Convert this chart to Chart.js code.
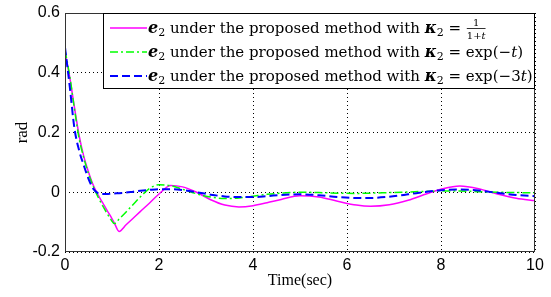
<!DOCTYPE html>
<html>
<head>
<meta charset="utf-8">
<script src="https://cdn.jsdelivr.net/npm/chart.js@4"></script>
<style>
  html, body { margin: 0; padding: 0; background: #fff; }
</style>
</head>
<body>
<canvas id="chart" width="551" height="297"></canvas>
<script>
// time axis (sec) and tracking error e2 (rad) for the three kappa2 choices
const time = [0, 0.1, 0.2, 0.3, 0.4, 0.5, 0.6, 0.7, 0.8, 0.9, 0.97, 1.05, 1.15, 1.3, 1.45, 1.6, 1.8, 2.0,
  2.25, 2.5, 2.8, 3.1, 3.4, 3.7, 4.0, 4.3, 4.6, 5.0, 5.4, 5.8, 6.2, 6.5, 6.9, 7.3, 7.7, 8.0, 8.4, 8.8, 9.2, 9.6, 10];
const eInvT = [0.47, 0.385, 0.285, 0.19, 0.12, 0.068, 0.024, -0.008, -0.035, -0.062, -0.08, -0.103, -0.131,
  -0.109, -0.087, -0.065, -0.036, -0.006, 0.023, 0.018, 0.0, -0.025, -0.043, -0.049, -0.045, -0.035, -0.024,
  -0.012, -0.016, -0.03, -0.043, -0.047, -0.042, -0.027, -0.005, 0.01, 0.021, 0.012, -0.006, -0.02, -0.028];
const eExp1 = [0.475, 0.39, 0.28, 0.18, 0.115, 0.062, 0.02, -0.015, -0.045, -0.072, -0.09, -0.105, -0.09,
  -0.066, -0.041, -0.016, 0.013, 0.025, 0.022, 0.01, -0.005, -0.016, -0.021, -0.019, -0.013, -0.007, -0.003,
  0.0, -0.001, -0.003, -0.004, -0.003, -0.001, 0.001, 0.003, 0.004, 0.004, 0.002, 0.0, -0.001, -0.002];
const eExp3 = [0.485, 0.355, 0.215, 0.14, 0.09, 0.045, 0.012, -0.003, -0.006, -0.006, -0.005, -0.004, -0.003,
  -0.001, 0.002, 0.005, 0.008, 0.01, 0.01, 0.007, 0.0, -0.008, -0.014, -0.016, -0.016, -0.013, -0.009,
  -0.007, -0.01, -0.016, -0.019, -0.019, -0.015, -0.007, 0.002, 0.007, 0.009, 0.006, -0.002, -0.009, -0.013];

const legendText = " under the proposed method with ";
const kappaExpr = ["frac", "exp(\u2212t)", "exp(\u22123t)"];
const xTicks = [0, 2, 4, 6, 8, 10];
const yTicks = [-0.2, 0, 0.2, 0.4, 0.6];
const yTickLabels = ["-0.2", "0", "0.2", "0.4", "0.6"];

const SERIF = '"DejaVu Serif", serif';

const toPoints = (ys) => time.map((t, i) => ({ x: t, y: ys[i] }));

// draws a run of text pieces with their own fonts, returns new x
function drawRun(ctx, x, y, parts) {
  for (const p of parts) {
    ctx.font = p.font;
    ctx.fillText(p.text, x, y + (p.dy || 0));
    x += ctx.measureText(p.text).width;
  }
  return x;
}

const frameAndLegend = {
  id: "frameAndLegend",
  afterDatasetsDraw(chart) {
    const { ctx, chartArea: a } = chart;
    ctx.save();
    // axes box
    ctx.strokeStyle = "#333";
    ctx.lineWidth = 1;
    ctx.setLineDash([]);
    ctx.strokeRect(a.left + 0.5, a.top + 0.5, a.right - a.left - 1, a.bottom - a.top - 1);

    // legend box
    const bx = 103, by = a.top, bw = a.right - bx, bh = 76;
    ctx.fillStyle = "#fff";
    ctx.fillRect(bx, by, bw, bh);
    ctx.strokeStyle = "#000";
    ctx.strokeRect(bx + 0.5, by + 0.5, bw - 1, bh - 1);

    const regular = "15px " + SERIF;
    const ital = "italic 15px " + SERIF;
    const bold = "italic bold 16px " + SERIF;
    const sub = "11px " + SERIF;
    chart.data.datasets.forEach((ds, i) => {
      const cy = by + 15 + i * 24;
      ctx.strokeStyle = ds.borderColor;
      ctx.lineWidth = ds.borderWidth;
      ctx.setLineDash(ds.borderDash || []);
      ctx.beginPath();
      ctx.moveTo(bx + 7, cy);
      ctx.lineTo(bx + 44, cy);
      ctx.stroke();
      ctx.setLineDash([]);

      ctx.fillStyle = "#000";
      ctx.textBaseline = "alphabetic";
      ctx.textAlign = "left";
      const base = cy + 5;
      let x = drawRun(ctx, bx + 45, base, [
        { text: "e", font: bold },
        { text: "2", font: sub, dy: 3 },
        { text: legendText, font: regular },
        { text: "\u03ba", font: bold },
        { text: "2", font: sub, dy: 3 },
        { text: " = ", font: regular }
      ]);
      const expr = kappaExpr[i];
      if (expr === "frac") {
        ctx.font = "10px " + SERIF;
        const w1 = ctx.measureText("1+").width;
        ctx.font = "italic 10px " + SERIF;
        const w = w1 + ctx.measureText("t").width;
        ctx.font = "10px " + SERIF;
        ctx.fillText("1", x + 1 + (w - ctx.measureText("1").width) / 2, base - 7);
        drawRun(ctx, x + 1, base + 6, [
          { text: "1+", font: "10px " + SERIF },
          { text: "t", font: "italic 10px " + SERIF }
        ]);
        ctx.fillRect(x + 1, base - 5, w, 0.8);
      } else {
        const m = expr.match(/^(.*?)(t)(\))$/);
        drawRun(ctx, x, base, [
          { text: m[1], font: regular },
          { text: m[2], font: ital },
          { text: m[3], font: regular }
        ]);
      }
    });
    ctx.restore();
  }
};

new Chart(document.getElementById("chart"), {
  type: "line",
  data: {
    datasets: [
      {
        data: toPoints(eInvT),
        borderColor: "#ff00ff",
        borderWidth: 1.5,
        order: 3
      },
      {
        data: toPoints(eExp1),
        borderColor: "#00ff00",
        borderWidth: 1.5,
        borderDash: [8, 3, 2, 3],
        order: 2
      },
      {
        data: toPoints(eExp3),
        borderColor: "#0000ff",
        borderWidth: 2,
        borderDash: [8, 4],
        order: 1
      }
    ]
  },
  options: {
    responsive: false,
    animation: false,
    layout: { padding: { top: 13, right: 16, left: 0, bottom: 0 } },
    elements: {
      point: { radius: 0 },
      line: { cubicInterpolationMode: "monotone", fill: false }
    },
    plugins: { legend: { display: false }, tooltip: { enabled: false } },
    scales: {
      x: {
        type: "linear",
        min: 0,
        max: 10,
        afterBuildTicks(s) { s.ticks = xTicks.map((v) => ({ value: v })); },
        afterFit(s) { s.height = 45; s.paddingLeft = 0; s.paddingRight = 0; },
        grid: { color: "#000", lineWidth: 1, drawTicks: false },
        border: { display: false, dash: [1, 3] },
        ticks: {
          color: "#000",
          padding: 4,
          maxRotation: 0,
          font: { family: "Arial, 'Liberation Sans'", size: 16 },
          callback: (v) => String(v)
        },
        title: {
          display: true,
          text: "Time(sec)",
          color: "#000",
          font: { family: "'Liberation Serif', serif", size: 16 },
          padding: { top: 0, bottom: 7 }
        }
      },
      y: {
        min: -0.2,
        max: 0.6,
        afterBuildTicks(s) { s.ticks = yTicks.map((v) => ({ value: v })); },
        afterFit(s) { s.width = 65; s.paddingTop = 0; s.paddingBottom = 0; },
        grid: { color: "#000", lineWidth: 1, drawTicks: false },
        border: { display: false, dash: [1, 3] },
        ticks: {
          color: "#000",
          padding: 5,
          font: { family: "Arial, 'Liberation Sans'", size: 16 },
          callback: (v) => yTickLabels[yTicks.findIndex((t) => Math.abs(t - v) < 1e-9)]
        },
        title: {
          display: true,
          text: "rad",
          color: "#000",
          font: { family: "'Liberation Serif', serif", size: 17 },
          padding: { top: 12, bottom: 0 }
        }
      }
    }
  },
  plugins: [frameAndLegend]
});
</script>
</body>
</html>
